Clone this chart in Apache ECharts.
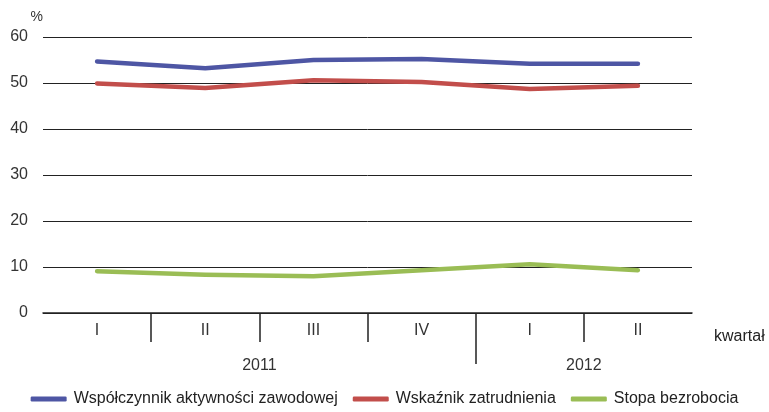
<!DOCTYPE html>
<html>
<head>
<meta charset="utf-8">
<script src="https://cdn.jsdelivr.net/npm/echarts@6/dist/echarts.min.js"></script>
<style>
  html, body { margin: 0; padding: 0; background: #fff; }
  #chart { width: 769px; height: 412px; }
</style>
</head>
<body>
<div id="chart"></div>
<script>
var quarters = ['I', 'II', 'III', 'IV', 'I', 'II']
var yearLabels = ['', '', '2011', '', '', '2012', '']
var aktywnosc = [54.7, 53.2, 55.0, 55.2, 54.2, 54.2]
var zatrudnienie = [49.9, 48.9, 50.6, 50.2, 48.7, 49.4]
var bezrobocie = [9.1, 8.3, 8.0, 9.3, 10.6, 9.3]
var seriesNames = ['Współczynnik aktywności zawodowej', 'Wskaźnik zatrudnienia', 'Stopa bezrobocia']
var colors = ['#4e56a4', '#c24e4b', '#9abd55']

var chart = echarts.init(document.getElementById('chart'))
var font = 'Liberation Sans, Arial, sans-serif'

function line(name, data, color) {
  return {
    name: name,
    type: 'line',
    data: data,
    symbol: 'none',
    color: color,
    lineStyle: { width: 4.5, color: color, cap: 'round', join: 'round' }
  }
}

var option = {
  animation: false,
  textStyle: { fontFamily: font },
  grid: { left: 43, right: 77, top: 37, bottom: 99 },
  legend: {
    bottom: 0,
    left: 'center',
    itemWidth: 36,
    itemHeight: 5,
    itemGap: 15,
    icon: 'roundRect',
    textStyle: { fontSize: 16, color: '#222', padding: [0, 0, 0, 2] },
    data: seriesNames
  },
  xAxis: [
    {
      type: 'category',
      data: quarters,
      position: 'bottom',
      axisLine: { lineStyle: { color: '#222', width: 1.5 } },
      axisTick: { show: false },
      axisLabel: { fontSize: 16, color: '#333', margin: 10 }
    },
    {
      type: 'category',
      data: yearLabels,
      boundaryGap: false,
      position: 'bottom',
      axisLine: { show: false },
      axisTick: {
        show: true,
        length: 51,
        interval: function (i) { return i === 4 },
        lineStyle: { color: '#222', width: 1.5 }
      },
      axisLabel: { fontSize: 16, color: '#333', margin: 45, interval: 0 }
    },
    {
      type: 'category',
      data: yearLabels,
      boundaryGap: false,
      position: 'bottom',
      axisLine: { show: false },
      axisTick: {
        show: true,
        length: 29,
        interval: function (i) { return i === 1 || i === 2 || i === 3 || i === 5 },
        lineStyle: { color: '#222', width: 1.5 }
      },
      axisLabel: { show: false }
    }
  ],
  yAxis: {
    type: 'value',
    min: 0,
    max: 60,
    interval: 10,
    name: '%',
    nameGap: 13,
    nameTextStyle: { fontSize: 14, color: '#333', align: 'right', padding: [0, 0, 0, 0] },
    axisLine: { show: false },
    axisTick: { show: false },
    axisLabel: { fontSize: 16, color: '#333', margin: 15 },
    splitLine: { lineStyle: { color: '#222', width: 1 } }
  },
  graphic: [{
    type: 'text',
    left: 714,
    top: 329,
    style: { text: 'kwartał', fontSize: 16, fill: '#222', fontFamily: font }
  }],
  series: [
    line(seriesNames[0], aktywnosc, colors[0]),
    line(seriesNames[1], zatrudnienie, colors[1]),
    line(seriesNames[2], bezrobocie, colors[2])
  ]
}

chart.setOption(option)
</script>
</body>
</html>
